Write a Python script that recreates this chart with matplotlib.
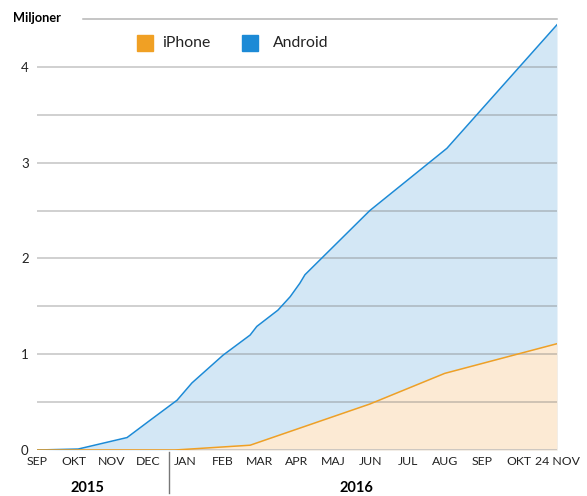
import matplotlib.pyplot as plt
import matplotlib.transforms as mtransforms

plt.rcParams['font.family'] = ['Lato', 'DejaVu Sans']

# x in months since start of Sep 2015 (last point = 24 Nov 2016)
month_labels = ["SEP", "OKT", "NOV", "DEC", "JAN", "FEB", "MAR", "APR",
                "MAJ", "JUN", "JUL", "AUG", "SEP", "OKT", "24 NOV"]
month_pos = [0, 1, 2, 3, 4, 5, 6, 7, 8, 9, 10, 11, 12, 13, 14.03]

android_x = [0, 1.11, 2.43, 3.05, 3.78, 4.18, 5.02, 5.75, 5.93, 6.50, 6.83, 7.09, 7.23, 8.98, 11.06, 14.03]
android_y = [0, 0.01, 0.13, 0.31, 0.52, 0.70, 0.99, 1.20, 1.29, 1.46, 1.60, 1.74, 1.83, 2.50, 3.15, 4.44]

iphone_x = [0, 3.72, 5.75, 8.98, 11.0, 14.03]
iphone_y = [0, 0.0, 0.05, 0.48, 0.80, 1.11]

blue = '#1c8ad6'
orange = '#f0a024'

fig = plt.figure(figsize=(5.87, 4.96), dpi=100)
W, H = 587, 496
ax = fig.add_axes([37 / W, (H - 450) / H, (557 - 37) / W, (450 - 19) / H])
ax.set_xlim(0, 14.03)
ax.set_ylim(0, 4.5)

ax.fill_between(android_x, android_y, color='#d3e7f5', zorder=1, lw=0)
ax.fill_between(iphone_x, iphone_y, color='#fcead4', zorder=2, lw=0)

# gridlines on top of the fills
for v in [0.5, 1, 1.5, 2, 2.5, 3, 3.5, 4]:
    ax.axhline(v, color='#7a7a7a', alpha=0.45, lw=1.1, zorder=3)
ax.axhline(4.5, xmin=(83 - 37) / (557 - 37), color='#7a7a7a', alpha=0.55, lw=1.1, zorder=3, clip_on=False)
ax.axhline(0, color='#c9c4bf', lw=2, zorder=3)

ax.plot(android_x, android_y, color=blue, lw=1.1, zorder=4)
ax.plot(iphone_x, iphone_y, color=orange, lw=1.1, zorder=4)

for s in ax.spines.values():
    s.set_visible(False)
ax.set_yticks([0, 1, 2, 3, 4])
ax.set_yticklabels(['0', '1', '2', '3', '4'], fontsize=9.5, color='#222222')
ax.set_xticks(month_pos)
ax.set_xticklabels(month_labels, fontsize=8.8, color='#222222')
ax.tick_params(length=0, pad=4)
ax.tick_params(axis='y', pad=6)

fig.text(13 / W, 1 - 18 / H, "Miljoner", fontsize=9.2, fontweight='bold', va='center', ha='left')

# legend
fig.patches.append(plt.Rectangle((137 / W, 1 - 51 / H), 16 / W, 16 / H, color=orange, transform=fig.transFigure))
fig.text(162 / W, 1 - 43 / H, "iPhone", fontsize=11.3, va='center', color='#222222')
fig.patches.append(plt.Rectangle((242 / W, 1 - 51 / H), 16 / W, 16 / H, color=blue, transform=fig.transFigure))
fig.text(273 / W, 1 - 43 / H, "Android", fontsize=11.3, va='center', color='#222222')

# year labels and divider
trans = mtransforms.blended_transform_factory(ax.transData, fig.transFigure)
ax.text(1.35, 1 - 488 / H, "2015", transform=trans, fontsize=10.5, fontweight='bold', ha='center', va='center')
ax.text(8.63, 1 - 488 / H, "2016", transform=trans, fontsize=10.5, fontweight='bold', ha='center', va='center')
ax.plot([3.56, 3.56], [1 - 452 / H, 1 - 493 / H], transform=trans, color='#777777', lw=1, clip_on=False)

fig.savefig('out.png', dpi=100)
